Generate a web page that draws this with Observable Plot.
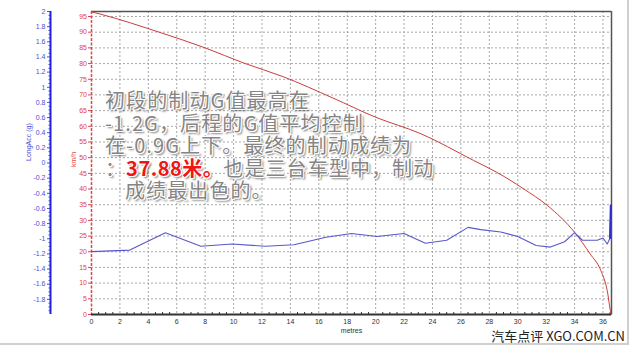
<!DOCTYPE html>
<html><head><meta charset="utf-8">
<script src="https://cdn.jsdelivr.net/npm/d3@7"></script>
<script src="https://cdn.jsdelivr.net/npm/@observablehq/plot@0.6"></script>
<style>
body{margin:0;background:#fff;}
#wrap{position:relative;width:630px;height:346px;overflow:hidden;font-family:"Liberation Sans",Arial,sans-serif;background:#fff;}
#wrap svg{position:absolute;left:0;top:0;}
#edge{position:absolute;left:0;top:0;width:627px;height:343px;border-right:2px solid #cfcfcf;border-bottom:2px solid #cfcfcf;}
#note{position:absolute;left:105px;top:89px;font-family:"Noto Sans CJK SC",sans-serif;font-size:20px;letter-spacing:1.1px;line-height:22.6px;color:#858585;white-space:pre;
  text-shadow:1px 0 0 #fff,-1px 0 0 #fff,0 1px 0 #fff,0 -1px 0 #fff,1px 1px 0 #fff,-1px -1px 0 #fff,2px 2px 2px rgba(0,0,0,0.55);}
#note .hi{color:#ee1515;font-weight:bold;letter-spacing:0.5px;}
#mark{position:absolute;right:5px;top:326px;font-family:"Noto Sans CJK SC",sans-serif;font-size:13px;color:#222;white-space:pre;}
</style></head><body><div id="wrap"><div id="edge"></div></div>
<script>
// speed vs distance (red, km/h)
const speedDistance = [0, 0.6, 4.9, 8.0, 10.7, 13.5, 17.0, 20.0, 23.2, 26.9, 28.5, 30.4, 32.1, 34.0, 35.1, 35.85, 36.3, 36.55, 36.6];
const speedValue    = [96.5, 95.8, 89.8, 85.0, 80.2, 75.8, 69.0, 62.9, 57.6, 49.1, 45.4, 40.1, 34.7, 26.2, 19.3, 14.0, 7.6, 0.7, 0];
// longitudinal acceleration vs distance (blue, g)
const gDistance = [0, 2.7, 5.2, 7.7, 9.9, 12.25, 14.25, 16.5, 18.3, 20.1, 22.0, 23.5, 25.0, 26.5, 27.4, 28.8, 30.0, 31.3, 32.3, 33.3, 34.0, 34.55, 35.6, 36.0, 36.3, 36.5, 36.55];
const gValue    = [-1.17, -1.15, -0.92, -1.10, -1.07, -1.10, -1.08, -0.98, -0.93, -0.97, -0.93, -1.06, -1.02, -0.85, -0.88, -0.91, -0.97, -1.09, -1.11, -1.04, -0.92, -1.02, -1.02, -0.99, -1.07, -0.99, -0.56];
// tick labels
const xTicks = [0,2,4,6,8,10,12,14,16,18,20,22,24,26,28,30,32,34,36];
const speedTicks = [0,5,10,15,20,25,30,35,40,45,50,55,60,65,70,75,80,85,90,95];
const gTicks = [-1.8,-1.6,-1.4,-1.2,-1,-0.8,-0.6,-0.4,-0.2,0,0.2,0.4,0.6,0.8,1,1.2,1.4,1.6,1.8,2];
const xMax = 36.6, speedMax = 96.6, gDomain = [-2, 2];

const W = 630, H = 346, mL = 91, mR = 19, mT = 11, mB = 32;
const RED = "#e04444", BLUE = "#4d4dd6", GRID = "#a8a8a8", DARK = "#333";
const font = {background:"transparent", fontFamily:"Liberation Sans, Arial, sans-serif", fontSize:"7px", overflow:"visible"};

const speedData = speedDistance.map((d,i)=>({m:d, v:speedValue[i]}));
const gData = gDistance.map((d,i)=>({m:d, g:gValue[i]}));
const minorX = d3.range(0, xMax, 0.5).filter(d => d % 2 !== 0);

const main = Plot.plot({
  width: W, height: H, marginLeft: mL, marginRight: mR, marginTop: mT, marginBottom: mB,
  style: font,
  x: {domain: [0, xMax]},
  y: {domain: [0, speedMax]},
  marks: [
    Plot.gridX(xTicks.filter(d => d > 0), {stroke: GRID, strokeOpacity: 1, strokeDasharray: "2,2"}),
    Plot.gridY(speedTicks.filter(d => d > 0), {stroke: GRID, strokeOpacity: 1, strokeDasharray: "2,2"}),
    Plot.ruleY([speedMax], {stroke: "#555", strokeWidth: 1.5}),
    Plot.ruleX([xMax], {stroke: "#555", strokeWidth: 1.5}),
    Plot.axisX(xTicks, {anchor: "bottom", tickSize: 0, tickPadding: 5, color: DARK, label: null, tickFormat: d => String(d)}),
    Plot.axisX(minorX, {anchor: "bottom", tickSize: -2, color: DARK, label: null, tickFormat: () => ""}),
    Plot.text(["metres"], {frameAnchor: "bottom", dy: 18, fill: DARK, fontSize: 7}),
    Plot.axisY(speedTicks, {anchor: "left", tickSize: 3, tickPadding: 1.5, color: RED, label: null, tickFormat: d => String(d)}),
    Plot.text(["km/h"], {frameAnchor: "left", dx: -18, dy: 4, rotate: -90, fill: RED, fontSize: 7}),
    Plot.ruleX([0], {stroke: RED, strokeWidth: 1.5, strokeDasharray: "3,1.5"}),
    Plot.ruleY([0], {stroke: DARK, strokeWidth: 2}),
    Plot.line(speedData, {x: "m", y: "v", stroke: "#cc3c3c", strokeWidth: 1, curve: "monotone-x"})
  ]
});

const blue = Plot.plot({
  width: W, height: H, marginLeft: mL, marginRight: mR, marginTop: mT, marginBottom: mB,
  style: font,
  x: {domain: [0, xMax], axis: null},
  y: {domain: gDomain, axis: null},
  marks: [
    Plot.line(gData, {x: "m", y: "g", stroke: "#5858cc", strokeWidth: 1.1}),
    Plot.line(gData.slice(-2), {x: "m", y: "g", stroke: "#2a2ad0", strokeWidth: 2})
  ]
});

const minorG = d3.range(-40, 41).map(d => d / 20).filter(d => Math.abs(Math.round(d * 5) - d * 5) > 1e-6);
const blueAxis = Plot.plot({
  width: 52, height: H, marginLeft: 50, marginRight: 1, marginTop: mT, marginBottom: mB,
  style: font,
  x: {domain: [0, 1], axis: null},
  y: {domain: gDomain, axis: null},
  marks: [
    Plot.axisY(gTicks, {anchor: "left", tickSize: 3, tickPadding: 2, color: BLUE, label: null, tickFormat: d => String(d)}),
    Plot.axisY(minorG, {anchor: "left", tickSize: 1.5, color: BLUE, label: null, tickFormat: () => ""}),
    Plot.ruleX([0], {stroke: "#2020e0", strokeWidth: 2}),
    Plot.text(["LongAcc (g)"], {frameAnchor: "left", dx: -22, dy: -2, rotate: -90, fill: BLUE, fontSize: 7})
  ]
});

const wrap = document.getElementById("wrap");
wrap.appendChild(main);
wrap.appendChild(blue);
wrap.appendChild(blueAxis);

const note = document.createElement("div");
note.id = "note";
note.innerHTML = '<div>初段的制动G值最高在</div><div>-1.2G，后程的G值平均控制</div><div>在-0.9G上下。最终的制动成绩为</div><div>：<span class="hi">37.88米。</span>也是三台车型中，制动</div><div style="padding-left:20px">成绩最出色的。</div>';
wrap.appendChild(note);

const mark = document.createElement("div");
mark.id = "mark";
mark.textContent = "汽车点评 XGO.COM.CN";
wrap.appendChild(mark);
</script>
</body></html>
